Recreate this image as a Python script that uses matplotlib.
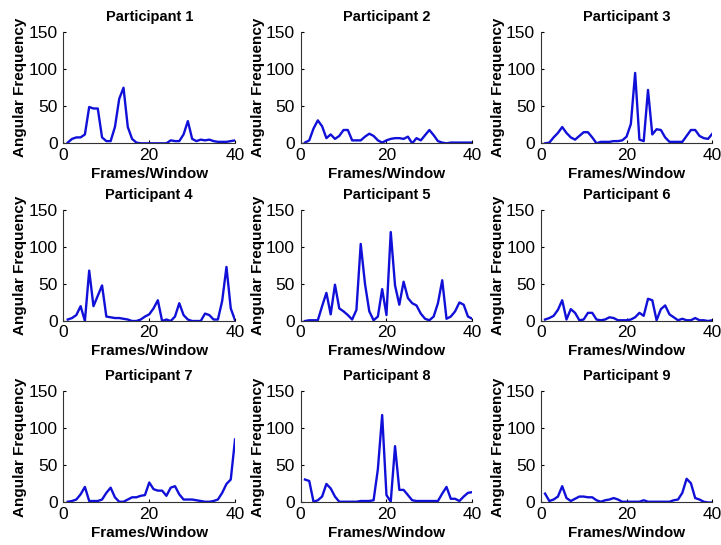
import numpy as np
import matplotlib
matplotlib.use("Agg")
import matplotlib.pyplot as plt

plt.rcParams["font.family"] = ["Liberation Sans", "DejaVu Sans"]

frames = np.arange(1, 41)

p1 = [1, 6, 8, 8, 12, 49, 47, 47, 8, 3, 3, 22, 60, 75, 22, 6, 1, 0, 0, 0,
      0, 0, 0, 0, 4, 3, 3, 12, 30, 6, 3, 5, 4, 5, 3, 2, 2, 2, 3, 4]
p2 = [1, 4, 20, 31, 23, 7, 12, 6, 10, 18, 18, 4, 4, 4, 9, 13, 10, 4, 1, 4,
      6, 7, 7, 6, 9, 0, 7, 4, 11, 18, 11, 3, 1, 0, 1, 1, 1, 1, 1, 1]
p3 = [0, 1, 8, 14, 22, 14, 8, 5, 10, 15, 15, 8, 0, 2, 2, 2, 3, 3, 4, 9,
      26, 95, 5, 3, 72, 12, 19, 18, 8, 2, 2, 2, 2, 10, 18, 18, 10, 7, 6, 13]
p4 = [2, 4, 8, 20, 0, 68, 20, 34, 48, 6, 5, 4, 4, 3, 2, 0, 0, 2, 6, 9,
      17, 28, 0, 2, 0, 6, 24, 8, 2, 0, 0, 0, 10, 8, 2, 2, 27, 73, 17, 1]
p5 = [0, 1, 1, 1, 20, 38, 9, 49, 17, 13, 8, 2, 15, 104, 50, 13, 1, 6, 43, 8,
      120, 48, 22, 53, 31, 24, 21, 10, 3, 1, 6, 24, 55, 3, 6, 13, 25, 22, 6, 3]
p6 = [2, 4, 7, 15, 28, 2, 16, 11, 1, 2, 11, 11, 2, 1, 2, 5, 4, 1, 1, 1,
      2, 5, 11, 7, 30, 28, 1, 16, 21, 9, 5, 1, 3, 1, 1, 4, 1, 1, 0, 1]
p7 = [1, 2, 4, 11, 21, 2, 2, 2, 4, 13, 20, 7, 1, 1, 4, 7, 7, 9, 10, 27,
      18, 16, 16, 9, 20, 22, 11, 4, 4, 4, 3, 2, 1, 1, 2, 4, 13, 25, 31, 85]
p8 = [31, 29, 1, 3, 8, 25, 19, 8, 1, 1, 1, 1, 1, 2, 2, 2, 3, 45, 118, 10,
      1, 76, 17, 17, 10, 3, 2, 2, 2, 2, 2, 2, 12, 21, 5, 5, 2, 8, 13, 14]
p9 = [12, 2, 4, 8, 22, 6, 2, 5, 8, 8, 7, 7, 3, 1, 3, 4, 6, 4, 1, 1,
      1, 1, 1, 3, 1, 1, 1, 1, 1, 1, 3, 4, 13, 32, 26, 6, 4, 1, 0, 0]

series = [p1, p2, p3, p4, p5, p6, p7, p8, p9]
titles = ["Participant %d" % (i + 1) for i in range(9)]

fig = plt.figure(figsize=(7.21, 5.45), dpi=100)

lefts = [0.088, 0.417, 0.750]
bottoms = [0.737, 0.411, 0.078]
width, height = 0.238, 0.204

for i, vals in enumerate(series):
    r, c = divmod(i, 3)
    ax = fig.add_axes([lefts[c], bottoms[r], width, height])
    ax.plot(frames, vals, color="#1010d8", linewidth=1.7)
    ax.set_xlim(0, 40)
    ax.set_ylim(0, 150)
    ax.set_xticks([0, 20, 40])
    ax.set_yticks([0, 50, 100, 150])
    ax.spines["top"].set_visible(False)
    ax.spines["right"].set_visible(False)
    for s in ("left", "bottom"):
        ax.spines[s].set_linewidth(0.8)
        ax.spines[s].set_color("#333333")
    ax.tick_params(direction="in", length=2, labelsize=12.5)
    ax.tick_params(axis="x", pad=3)
    ax.tick_params(axis="y", pad=4)
    ax.set_title(titles[i], fontsize=10.5, fontweight="bold", pad=8)
    ax.set_xlabel("Frames/Window", fontsize=11, fontweight="bold", labelpad=3)
    ax.set_ylabel("Angular Frequency", fontsize=11, fontweight="bold", labelpad=1)

fig.savefig("out.png", dpi=100)
